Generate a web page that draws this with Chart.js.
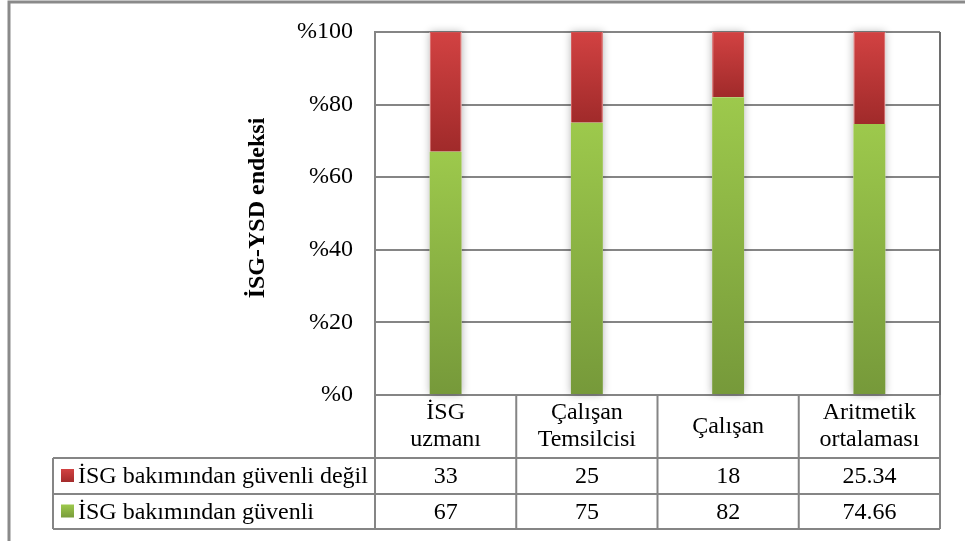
<!DOCTYPE html>
<html>
<head>
<meta charset="utf-8">
<script src="https://cdn.jsdelivr.net/npm/chart.js@4/dist/chart.umd.min.js"></script>
<style>
  html, body { margin: 0; padding: 0; background: #ffffff; }
  #wrap { width: 965px; height: 541px; }
</style>
</head>
<body>
<div id="wrap"><canvas id="c" width="965" height="541"></canvas></div>
<script>
// Categories (multi-line header labels of the data table)
const categories = [['İSG', 'uzmanı'], ['Çalışan', 'Temsilcisi'], ['Çalışan'], ['Aritmetik', 'ortalaması']];
// Series names
const unsafeName = 'İSG bakımından güvenli değil';
const safeName = 'İSG bakımından güvenli';
// Series values (percent)
const unsafeValues = [33, 25, 18, 25.34];
const safeValues = [67, 75, 82, 74.66];
// Axis
const yTickPrefix = '%';
const yTitle = 'İSG-YSD endeksi';

const FONT = "'Liberation Serif', 'Times New Roman', serif";
const GRID = '#858585';

const palette = {
  safe: ['#9dc94c', '#76993a'],
  unsafe: ['#d24242', '#a02a2a']
};

// Vertical gradient spanning one stacked segment
function segmentFill(key) {
  return function (ctx) {
    const chart = ctx.chart;
    const y = chart.scales && chart.scales.y;
    if (ctx.type !== 'data' || !y) return palette[key][0];
    const ds = chart.data.datasets;
    let start = 0;
    for (let d = 0; d < ctx.datasetIndex; d++) start += ds[d].data[ctx.dataIndex];
    const end = start + ds[ctx.datasetIndex].data[ctx.dataIndex];
    const top = y.getPixelForValue(end), bot = y.getPixelForValue(start);
    if (!isFinite(top) || !isFinite(bot)) return palette[key][0];
    const g = chart.ctx.createLinearGradient(0, top, 0, bot);
    g.addColorStop(0, palette[key][0]);
    g.addColorStop(1, palette[key][1]);
    return g;
  };
}

// Outer frame, bar shadows, plot border and data table
const decorations = {
  id: 'decorations',
  beforeDraw(chart) {
    const c = chart.ctx;
    c.save();
    c.fillStyle = '#ffffff';
    c.fillRect(0, 0, chart.width, chart.height);
    c.strokeStyle = '#8a8a8a';
    c.lineWidth = 3;
    c.beginPath();
    c.moveTo(9, chart.height);
    c.lineTo(9, 2);
    c.lineTo(chart.width, 2);
    c.stroke();
    c.restore();
  },
  beforeDatasetsDraw(chart) {
    const c = chart.ctx;
    const m0 = chart.getDatasetMeta(0), m1 = chart.getDatasetMeta(1);
    c.save();
    c.shadowColor = 'rgba(0,0,0,0.3)';
    c.shadowBlur = 8;
    c.fillStyle = '#ffffff';
    m0.data.forEach((bar, i) => {
      const top = m1.data[i].y, bot = bar.base;
      c.fillRect(bar.x - bar.width / 2, top, bar.width, bot - top);
    });
    c.restore();
  },
  afterDraw(chart) {
    const c = chart.ctx;
    const a = chart.chartArea;
    const xs = chart.scales.x;
    const n = categories.length;
    const w = (a.right - a.left) / n;
    const rows = [a.bottom, a.bottom + 63, a.bottom + 99, a.bottom + 134];
    const legendLeft = 53;

    c.save();
    // right border of the plot
    c.strokeStyle = '#6e6e6e';
    c.lineWidth = 2;
    c.beginPath();
    c.moveTo(a.right, a.top);
    c.lineTo(a.right, a.bottom);
    c.stroke();

    // table grid
    c.strokeStyle = GRID;
    c.lineWidth = 2;
    c.beginPath();
    for (let r = 1; r < rows.length; r++) {
      c.moveTo(legendLeft, rows[r]);
      c.lineTo(a.right, rows[r]);
    }
    c.moveTo(legendLeft, rows[1]);
    c.lineTo(legendLeft, rows[3]);
    for (let i = 0; i <= n; i++) {
      const x = a.left + i * w;
      c.moveTo(x, rows[0]);
      c.lineTo(x, rows[3]);
    }
    c.stroke();

    // header labels
    c.fillStyle = '#000000';
    c.font = '24px ' + FONT;
    c.textAlign = 'center';
    c.textBaseline = 'middle';
    const hMid = (rows[0] + rows[1]) / 2;
    const lh = 27;
    categories.forEach((lines, i) => {
      const cx = xs.getPixelForValue(i);
      lines.forEach((t, k) => {
        c.fillText(t, cx, hMid + (k - (lines.length - 1) / 2) * lh);
      });
    });

    // value rows with legend keys
    const tableRows = [
      { name: unsafeName, values: unsafeValues, key: 'unsafe' },
      { name: safeName, values: safeValues, key: 'safe' }
    ];
    tableRows.forEach((row, r) => {
      const mid = (rows[r + 1] + rows[r + 2]) / 2;
      const g = c.createLinearGradient(0, mid - 7, 0, mid + 7);
      g.addColorStop(0, palette[row.key][0]);
      g.addColorStop(1, palette[row.key][1]);
      c.fillStyle = g;
      c.fillRect(61, mid - 7, 13, 13);
      c.fillStyle = '#000000';
      c.textAlign = 'left';
      c.fillText(row.name, 78, mid + 1);
      c.textAlign = 'center';
      row.values.forEach((v, i) => {
        c.fillText(String(v), xs.getPixelForValue(i), mid + 1);
      });
    });

    // rotated y-axis title
    c.font = 'bold 24px ' + FONT;
    c.textAlign = 'center';
    c.textBaseline = 'alphabetic';
    c.translate(264, 208);
    c.rotate(-Math.PI / 2);
    c.fillText(yTitle, 0, 0);
    c.restore();
  }
};

new Chart(document.getElementById('c'), {
  type: 'bar',
  data: {
    labels: categories.map(l => l.join(' ')),
    datasets: [
      {
        label: safeName,
        data: safeValues,
        backgroundColor: segmentFill('safe'),
        borderColor: '#8fbd45',
        borderWidth: 0
      },
      {
        label: unsafeName,
        data: unsafeValues,
        backgroundColor: segmentFill('unsafe'),
        borderColor: '#cf5050',
        borderWidth: 1
      }
    ]
  },
  options: {
    responsive: false,
    animation: false,
    layout: { padding: { top: 32, right: 25, bottom: 146, left: 0 } },
    plugins: { legend: { display: false }, tooltip: { enabled: false }, title: { display: false } },
    datasets: { bar: { categoryPercentage: 1, barPercentage: 0.226 } },
    scales: {
      x: { stacked: true, display: false },
      y: {
        stacked: true,
        min: 0,
        max: 100,
        ticks: {
          stepSize: 20,
          padding: 22,
          color: '#000000',
          font: { family: FONT, size: 24 },
          callback: v => yTickPrefix + v
        },
        grid: { color: GRID, lineWidth: 2, drawTicks: false },
        border: { display: true, color: GRID, width: 2 },
        afterFit(scale) {
          scale.width = 375;
          scale.paddingTop = 0;
          scale.paddingBottom = 0;
        }
      }
    }
  },
  plugins: [decorations]
});
</script>
</body>
</html>
